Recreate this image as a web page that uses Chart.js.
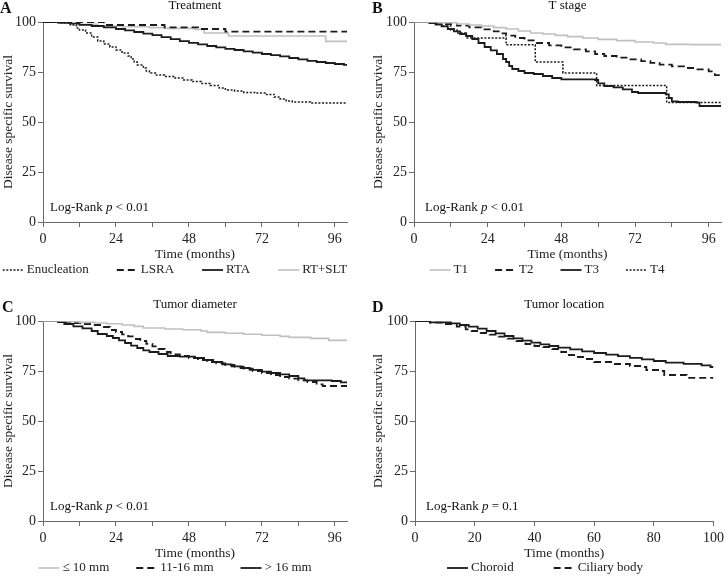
<!DOCTYPE html>
<html>
<head>
<meta charset="utf-8">
<script src="https://cdn.jsdelivr.net/npm/chart.js@4.4.1/dist/chart.umd.min.js"></script>
<style>
    html, body { margin: 0; padding: 0; background: #fff; overflow: hidden; }
    #wrap { position: relative; width: 728px; height: 576px; overflow: hidden; }
    canvas { position: absolute; }
</style>
</head>
<body>
<div id="wrap">
    <canvas id="panelA" width="358" height="280" style="left:0;top:0"></canvas>
    <canvas id="panelB" width="358" height="280" style="left:370px;top:0"></canvas>
    <canvas id="panelC" width="358" height="280" style="left:0;top:299px"></canvas>
    <canvas id="panelD" width="358" height="280" style="left:370px;top:299px"></canvas>
</div>
<script>
// --- data (months, survival %) ---

// A: Treatment
const treatmentLabels = ['Enucleation', 'LSRA', 'RTA', 'RT+SLT'];
const enucT = [0, 6, 9, 11, 12, 14, 16, 18, 20, 22, 24, 26, 28, 29, 30, 31, 33, 34, 35, 37, 40, 43, 46, 49, 52, 55, 58, 60, 63, 66, 70, 73, 76, 78, 80, 82, 88, 100];
const enucS = [100, 99.5, 98.5, 97, 96, 94.5, 92.5, 90.5, 89, 87.5, 86, 84.5, 83, 81.5, 80, 78.5, 77, 75.5, 74.5, 73.5, 72.8, 72, 71, 70.2, 69.3, 68.3, 67, 66, 65.5, 64.8, 64.5, 63.8, 62.5, 61.5, 60.5, 60, 59.5, 59.5];
const lsraT = [0, 20, 40, 51, 60, 100];
const lsraS = [100, 98.5, 97.3, 96.5, 95.2, 95.2];
const rtaT = [0, 5, 9, 12, 16, 20, 24, 27, 30, 33, 36, 39, 42, 45, 48, 51, 54, 57, 60, 63, 66, 69, 72, 75, 78, 81, 84, 87, 90, 93, 96, 99, 100];
const rtaS = [100, 99.7, 99.2, 98.6, 98, 97.3, 96.5, 95.8, 95, 94.2, 93.4, 92.4, 91.4, 90.4, 89.6, 88.8, 88, 87.3, 86.6, 86, 85.3, 84.7, 84, 83.4, 82.8, 82, 81.3, 80.6, 80, 79.5, 79, 78.6, 78.6];
const rtsltT = [0, 5, 12, 18, 26, 35, 40, 50, 53, 61, 93, 100];
const rtsltS = [100, 99.4, 98.8, 98, 97.6, 97.2, 96.8, 96.3, 94.5, 93, 90.3, 90.3];

// B: T stage
const stageLabels = ['T1', 'T2', 'T3', 'T4'];
const t1T = [0, 8, 14, 18, 22, 26, 30, 34, 38, 42, 46, 50, 55, 60, 66, 72, 78, 82, 90, 100];
const t1S = [100, 99.6, 99, 98.5, 98, 97.2, 96.5, 95.5, 94.5, 94, 93.3, 92.7, 92, 91.3, 90.7, 90, 89.5, 88.8, 88.7, 88.5];
const t2T = [0, 6, 10, 14, 18, 22, 26, 28, 30, 33, 36, 40, 44, 48, 52, 56, 59, 62, 66, 70, 74, 77, 80, 84, 88, 92, 96, 98, 100];
const t2S = [100, 99.6, 99, 98.2, 97.3, 96.3, 95.3, 94.3, 93.2, 92, 90.8, 89.5, 88.3, 87.3, 86.3, 85.3, 84, 83, 82.2, 81.3, 80.4, 79.6, 78.7, 77.8, 77, 76.3, 75.3, 73.4, 73.4];
const t3T = [0, 5, 7, 9, 11, 13, 15, 17, 19, 21, 23, 25, 27, 29, 30, 31, 32, 34, 36, 39, 42, 45, 48, 59, 60, 62, 65, 68, 71, 73, 82, 83, 84, 86, 92, 93, 100];
const t3S = [100, 99.5, 98.7, 97.8, 96.5, 95.3, 94, 93, 91.5, 89.5, 87.5, 85.8, 84, 81.5, 80, 78, 76.5, 75.5, 74.5, 74, 73, 72, 71.3, 71, 69.3, 68, 67.3, 66.3, 65, 64.5, 63.8, 62, 60.3, 60, 59.7, 58, 58];
const t4T = [0, 6, 9, 12, 14, 17, 30, 39.5, 48.5, 59.5, 82.3, 100];
const t4S = [100, 99.5, 98, 96, 94.5, 92, 88.6, 80, 74.5, 68.3, 59.7, 59.7];

// C: Tumor diameter
const diameterLabels = ['\u2264 10 mm', '11-16 mm', '> 16 mm'];
const d10T = [0, 8, 12, 17, 21, 26, 30, 33, 40, 46, 52, 54, 60, 66, 72, 78, 81, 88, 94, 100];
const d10S = [100, 99.6, 99.3, 99, 98.6, 98, 97.3, 96.5, 96, 95.6, 95, 94.3, 93.9, 93.4, 92.9, 92.3, 91.8, 91.3, 90.3, 90.3];
const d11T = [0, 5, 9, 13, 17, 20, 22, 24, 26, 28, 30, 32, 34, 36, 38, 40, 42, 45, 48, 51, 54, 57, 60, 63, 66, 69, 72, 75, 78, 81, 84, 87, 90, 92, 100];
const d11S = [100, 99.5, 99, 98.5, 98, 97, 95.5, 94.5, 93.3, 92.3, 91, 90, 88.6, 87.3, 86, 84.5, 83.3, 82.5, 81.5, 80.5, 79.5, 78.8, 78, 77.2, 76.2, 75, 74, 73, 72, 71.2, 70.3, 69.5, 68.3, 67.5, 67.3];
const d16T = [0, 5, 7, 10, 13, 16, 18, 21, 23, 25, 27, 29, 31, 33, 35, 38, 41, 45, 50, 53, 56, 59, 62, 65, 68, 72, 75, 78, 81, 84, 86, 95, 98, 100];
const d16S = [100, 99.5, 98.5, 97.3, 96.3, 95, 93.5, 92.5, 91.5, 90.3, 89, 87.7, 86.5, 85.3, 84.5, 83.5, 82.5, 82.2, 81.5, 80.5, 79.5, 78.3, 77.3, 76.5, 75.6, 74.7, 74, 73.3, 72.5, 71.3, 70.3, 70, 69.3, 69.3];

// D: Tumor location
const locationLabels = ['Choroid', 'Ciliary body'];
const chorT = [0, 5, 12, 15, 18, 21, 24, 27, 30, 33, 36, 39, 42, 45, 48, 52, 56, 60, 64, 68, 72, 76, 80, 84, 90, 96, 99, 100];
const chorS = [100, 99.3, 98.8, 98, 97.2, 96.2, 95, 93.8, 92.5, 91.3, 90.2, 89.2, 88.3, 87.5, 86.7, 85.8, 84.8, 84, 83.2, 82.4, 81.6, 80.8, 80, 79.2, 78.6, 77.8, 77, 77];
const cilT = [0, 5, 10, 14, 17, 19, 22, 25, 28, 31, 34, 37, 40, 43, 46, 49, 51, 54, 57, 60, 66, 72, 76, 77.5, 82, 83.5, 91, 100];
const cilS = [100, 99.2, 98.5, 97.2, 95.8, 95, 94, 93.2, 92.2, 91.2, 90, 88.5, 87.5, 87, 86, 84.5, 83, 82, 81, 79.5, 78.5, 77.5, 77, 75.5, 75, 73, 71.6, 71.6];

// axis ticks
const yTickStep = 25;
const xMinorStep = 12;   // small unlabeled ticks
const xLabelStep = 24;   // labelled every 24 months
const xStepD = 20;       // panel D uses 0..100 by 20

// --- styling ---
const FONT = '"Liberation Serif", "Times New Roman", serif';
const AXIS = '#6a6a6a';
const BLACK = '#1c1c1c';
const GREY = '#c0c0c0';
Chart.defaults.font.family = FONT;
Chart.defaults.font.size = 13;
Chart.defaults.color = '#222';

const lineStyles = {
    dotted: { borderColor: BLACK, borderWidth: 1.5, borderDash: [2, 1.6] },
    dashed: { borderColor: BLACK, borderWidth: 1.8, borderDash: [7, 4] },
    solid:  { borderColor: BLACK, borderWidth: 1.8, borderDash: [] },
    grey:   { borderColor: GREY,  borderWidth: 1.6, borderDash: [] }
};

function kmSeries(label, times, surv, style) {
    return Object.assign({
        label: label,
        data: times.map((t, i) => ({ x: t, y: surv[i] })),
        stepped: true,
        pointRadius: 0,
        fill: false,
        tension: 0,
        backgroundColor: 'transparent'
    }, lineStyles[style]);
}

// panel letter, title above the plot, log-rank note and the line legend
const panelText = {
    id: 'panelText',
    afterDraw(chart, args, opts) {
        const { ctx, chartArea: a } = chart;
        ctx.save();
        ctx.fillStyle = '#111';
        ctx.textBaseline = 'alphabetic';
        ctx.textAlign = 'left';
        ctx.font = 'bold 16px ' + FONT;
        ctx.fillText(opts.letter, opts.letterX, 13);
        ctx.font = '13px ' + FONT;
        ctx.textAlign = 'center';
        ctx.fillText(opts.title, (a.left + a.right) / 2, 9);

        ctx.textAlign = 'left';
        let x = a.left + opts.noteX;
        const y = a.bottom - 11;
        opts.note.forEach(([txt, italic]) => {
            ctx.font = (italic ? 'italic ' : '') + '13px ' + FONT;
            ctx.fillText(txt, x, y);
            x += ctx.measureText(txt).width;
        });

        // legend: short line sample + label, centred in a row
        ctx.font = '13px ' + FONT;
        ctx.textBaseline = 'middle';
        const sample = 21, gap = 3;
        const items = chart.data.datasets.map(ds => ({ ds, w: sample + gap + ctx.measureText(ds.label).width }));
        const total = items.reduce((s, it) => s + it.w, 0) + opts.legendGap * (items.length - 1);
        let lx = opts.legendCenter - total / 2;
        const ly = opts.legendY;
        items.forEach(({ ds, w }) => {
            ctx.strokeStyle = ds.borderColor;
            ctx.lineWidth = ds.borderWidth;
            ctx.setLineDash(ds.borderDash || []);
            ctx.beginPath();
            ctx.moveTo(lx, ly);
            ctx.lineTo(lx + sample, ly);
            ctx.stroke();
            ctx.setLineDash([]);
            ctx.fillStyle = '#222';
            ctx.fillText(ds.label, lx + sample + gap, ly);
            lx += w + opts.legendGap;
        });
        ctx.restore();
    }
};

function makeChart(id, cfg) {
    new Chart(document.getElementById(id), {
        type: 'line',
        data: { datasets: cfg.datasets },
        plugins: [panelText],
        options: {
            responsive: false,
            animation: false,
            events: [],
            layout: { padding: { top: 22, right: cfg.right, left: 0, bottom: 17 } },
            scales: {
                x: {
                    type: 'linear',
                    min: 0,
                    max: 100,
                    ticks: {
                        stepSize: cfg.xStep,
                        includeBounds: false,
                        autoSkip: false,
                        maxRotation: 0,
                        padding: 4,
                        color: '#222',
                        font: { size: 14 },
                        callback: v => (v % cfg.xLabelStep === 0 ? v : '')
                    },
                    grid: { drawOnChartArea: false, drawTicks: true, tickLength: 5, color: AXIS },
                    border: { color: AXIS, width: 1 },
                    title: { display: true, text: 'Time (months)', color: '#222', padding: 0, font: { size: 13.5 } },
                    afterFit: s => { s.height = 41; }
                },
                y: {
                    min: 0,
                    max: 100,
                    ticks: { stepSize: yTickStep, padding: 2, color: '#222', font: { size: 14 } },
                    grid: { drawOnChartArea: false, drawTicks: true, tickLength: 5, color: AXIS },
                    border: { color: AXIS, width: 1 },
                    title: { display: true, text: 'Disease specific survival', color: '#222', padding: 0, font: { size: 13.5 } },
                    afterFit: s => { s.width = cfg.yWidth; }
                }
            },
            plugins: {
                legend: { display: false },
                tooltip: { enabled: false },
                panelText: cfg.text
            }
        }
    });
}

makeChart('panelA', {
    yWidth: 43, right: 11, xStep: xMinorStep, xLabelStep: xLabelStep,
    datasets: [
        kmSeries(treatmentLabels[0], enucT, enucS, 'dotted'),
        kmSeries(treatmentLabels[1], lsraT, lsraS, 'dashed'),
        kmSeries(treatmentLabels[2], rtaT, rtaS, 'solid'),
        kmSeries(treatmentLabels[3], rtsltT, rtsltS, 'grey')
    ],
    text: { letter: 'A', letterX: 0, title: 'Treatment', noteX: 7,
            note: [['Log-Rank ', false], ['p', true], [' < 0.01', false]],
            legendCenter: 175, legendY: 270, legendGap: 28 }
});

makeChart('panelB', {
    yWidth: 44, right: 7, xStep: xMinorStep, xLabelStep: xLabelStep,
    datasets: [
        kmSeries(stageLabels[0], t1T, t1S, 'grey'),
        kmSeries(stageLabels[1], t2T, t2S, 'dashed'),
        kmSeries(stageLabels[2], t3T, t3S, 'solid'),
        kmSeries(stageLabels[3], t4T, t4S, 'dotted')
    ],
    text: { letter: 'B', letterX: 2, title: 'T stage', noteX: 11,
            note: [['Log-Rank ', false], ['p', true], [' < 0.01', false]],
            legendCenter: 177, legendY: 270, legendGap: 27 }
});

makeChart('panelC', {
    yWidth: 43, right: 11, xStep: xMinorStep, xLabelStep: xLabelStep,
    datasets: [
        kmSeries(diameterLabels[0], d10T, d10S, 'grey'),
        kmSeries(diameterLabels[1], d11T, d11S, 'dashed'),
        kmSeries(diameterLabels[2], d16T, d16S, 'solid')
    ],
    text: { letter: 'C', letterX: 2, title: 'Tumor diameter', noteX: 7,
            note: [['Log-Rank ', false], ['p', true], [' < 0.01', false]],
            legendCenter: 175, legendY: 269, legendGap: 27 }
});

makeChart('panelD', {
    yWidth: 45, right: 10, xStep: xStepD, xLabelStep: xStepD,
    datasets: [
        kmSeries(locationLabels[0], chorT, chorS, 'solid'),
        kmSeries(locationLabels[1], cilT, cilS, 'dashed')
    ],
    text: { letter: 'D', letterX: 2, title: 'Tumor location', noteX: 11,
            note: [['Log-Rank ', false], ['p', true], [' = 0.1', false]],
            legendCenter: 175, legendY: 269, legendGap: 40 }
});
</script>
</body>
</html>
